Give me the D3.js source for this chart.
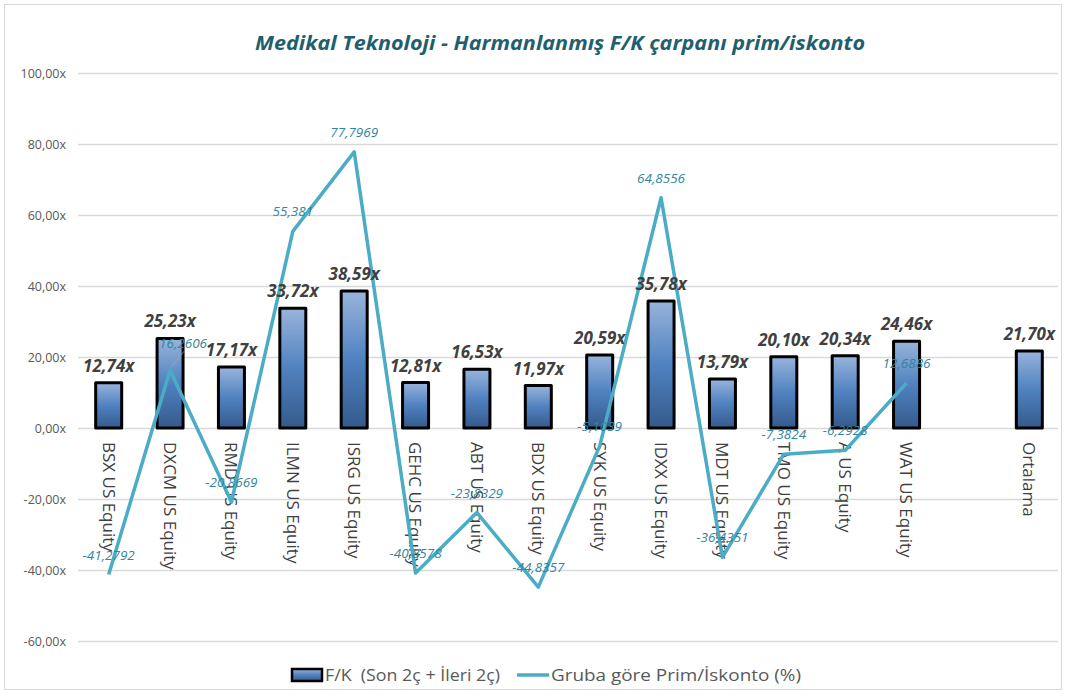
<!DOCTYPE html>
<html>
<head>
<meta charset="utf-8">
<script src="https://cdn.jsdelivr.net/npm/d3@7/dist/d3.min.js"></script>
<style>
  html, body { margin: 0; padding: 0; background: #ffffff; }
  svg { display: block; }
</style>
</head>
<body>
<script>
// ---- data ----
const categories = ["BSX US Equity", "DXCM US Equity", "RMD US Equity", "ILMN US Equity", "ISRG US Equity",
  "GEHC US Equity", "ABT US Equity", "BDX US Equity", "SYK US Equity", "IDXX US Equity",
  "MDT US Equity", "TMO US Equity", "A US Equity", "WAT US Equity", " ", "Ortalama"];
const fkValues = [12.74, 25.23, 17.17, 33.72, 38.59, 12.81, 16.53, 11.97, 20.59, 35.78, 13.79, 20.10, 20.34, 24.46, null, 21.70];
const primValues = [-41.2792, 16.2606, -20.8669, 55.381, 77.7969, -40.8578, -23.8329, -44.8357, -5.1039, 64.8556,
  -36.4351, -7.3824, -6.2928, 12.6886, null, null];
const yTicks = [-60, -40, -20, 0, 20, 40, 60, 80, 100];
const titleText = "Medikal Teknoloji - Harmanlanmış F/K çarpanı prim/iskonto";
const barSeriesName = "F/K  (Son 2ç + İleri 2ç)";
const lineSeriesName = "Gruba göre Prim/İskonto (%)";

// ---- layout ----
const W = 1066, H = 694;
const plot = { left: 78, right: 1060, top: 73, bottom: 641 };
const FONT = "'Open Sans', 'Noto Sans', sans-serif";

const svg = d3.select("body").append("svg").attr("width", W).attr("height", H);

const defs = svg.append("defs");
function addGrad(id) {
  const g = defs.append("linearGradient").attr("id", id)
    .attr("x1", 0).attr("y1", 0).attr("x2", 0).attr("y2", 1);
  g.append("stop").attr("offset", "0%").attr("stop-color", "#98b4dc");
  g.append("stop").attr("offset", "50%").attr("stop-color", "#5082c0");
  g.append("stop").attr("offset", "100%").attr("stop-color", "#345a8c");
}
addGrad("barGrad");
addGrad("legGrad");

svg.append("rect").attr("x", 4.5).attr("y", 4.5).attr("width", W - 9).attr("height", H - 9)
  .attr("fill", "#fff").attr("stroke", "#d9d9d9").attr("stroke-width", 1);

const x = d3.scaleBand().domain(categories).range([plot.left, plot.right]).paddingInner(0).paddingOuter(0);
const y = d3.scaleLinear().domain([-60, 100]).range([plot.bottom, plot.top]);

const commaFmt = (v, d) => d3.format("." + d + "f")(v).replace("−", "-").replace(".", ",");
const trimFmt = v => {
  let s = d3.format(".4f")(v).replace("−", "-").replace(/0+$/, "").replace(/\.$/, "");
  return s.replace(".", ",");
};

// title
svg.append("text").attr("x", 560).attr("y", 50).attr("text-anchor", "middle")
  .attr("font-family", FONT).attr("font-size", 20).attr("font-weight", "bold").attr("font-style", "italic")
  .attr("fill", "#215f6e").attr("textLength", 610).attr("lengthAdjust", "spacingAndGlyphs")
  .text(titleText);

// gridlines + y axis labels
const yAxis = d3.axisLeft(y).tickValues(yTicks).tickSize(-(plot.right - 2 - plot.left)).tickPadding(12)
  .tickFormat(d => commaFmt(d, 2) + "x");
const gy = svg.append("g").attr("transform", `translate(${plot.left},0)`).call(yAxis);
gy.select(".domain").remove();
gy.selectAll(".tick line").attr("stroke", "#d9d9d9").attr("stroke-width", 1.3);
gy.selectAll(".tick text").attr("font-family", FONT).attr("font-size", 12.5).attr("fill", "#595959");

// category labels
const xAxis = d3.axisBottom(x).tickSize(0).tickPadding(0);
const gx = svg.append("g").attr("transform", `translate(0,${y(0)})`).call(xAxis);
gx.select(".domain").remove();
gx.selectAll(".tick text")
  .attr("transform", "translate(0,14) rotate(90)")
  .attr("x", 0).attr("y", 0).attr("dy", "0.36em")
  .attr("text-anchor", "start")
  .attr("font-family", FONT).attr("font-size", 17).attr("fill", "#404040");

// bars
const barW = 26;
const barData = categories.map((c, i) => ({ c, v: fkValues[i] })).filter(d => d.v != null);
svg.append("g").selectAll("rect").data(barData).join("rect")
  .attr("x", d => x(d.c) + x.bandwidth() / 2 - barW / 2)
  .attr("y", d => y(d.v))
  .attr("width", barW)
  .attr("height", d => y(0) - y(d.v))
  .attr("fill", "url(#barGrad)")
  .attr("stroke", "#000").attr("stroke-width", 3).attr("stroke-linejoin", "round");

// line
const lineData = categories.map((c, i) => ({ c, v: primValues[i] })).filter(d => d.v != null);
const line = d3.line().x(d => x(d.c) + x.bandwidth() / 2).y(d => y(d.v));
svg.append("path").datum(lineData).attr("d", line)
  .attr("fill", "none").attr("stroke", "#4bacc6").attr("stroke-width", 3.5).attr("stroke-linejoin", "round");

// bar labels
svg.append("g").selectAll("text").data(barData).join("text")
  .attr("x", d => x(d.c) + x.bandwidth() / 2)
  .attr("y", d => y(d.v) - 11)
  .attr("text-anchor", "middle")
  .attr("font-family", FONT).attr("font-size", 17).attr("font-weight", "bold").attr("font-style", "italic")
  .attr("fill", "#404040")
  .text(d => commaFmt(d.v, 2) + "x");

// line labels (DXCM label is shifted with a leader line, as in the original)
const lg = svg.append("g");
lineData.forEach(d => {
  const cx = x(d.c) + x.bandwidth() / 2, cy = y(d.v);
  let lx = cx, ly = cy - 15;
  if (d.c === "DXCM US Equity") {
    lx = cx + 13; ly = cy - 22;
    lg.append("line").attr("x1", cx + 1).attr("y1", cy - 3).attr("x2", cx + 14).attr("y2", cy - 19)
      .attr("stroke", "#a6a6a6").attr("stroke-width", 0.8);
  }
  lg.append("text").attr("x", lx).attr("y", ly).attr("text-anchor", "middle")
    .attr("font-family", FONT).attr("font-size", 13.5).attr("font-style", "italic")
    .attr("fill", "#31859c").text(trimFmt(d.v));
});

// legend
const leg = svg.append("g");
leg.append("rect").attr("x", 292).attr("y", 669).attr("width", 30).attr("height", 12)
  .attr("fill", "url(#legGrad)").attr("stroke", "#000").attr("stroke-width", 2.5);
leg.append("text").attr("x", 325).attr("y", 681).attr("font-family", FONT).attr("font-size", 16.5)
  .attr("fill", "#595959").attr("textLength", 175).attr("lengthAdjust", "spacingAndGlyphs")
  .style("white-space", "pre").text(barSeriesName);
leg.append("line").attr("x1", 517).attr("y1", 675).attr("x2", 549).attr("y2", 675)
  .attr("stroke", "#4bacc6").attr("stroke-width", 3.5);
leg.append("text").attr("x", 551).attr("y", 681).attr("font-family", FONT).attr("font-size", 16.5)
  .attr("fill", "#595959").attr("textLength", 250).attr("lengthAdjust", "spacingAndGlyphs")
  .text(lineSeriesName);
</script>
</body>
</html>
